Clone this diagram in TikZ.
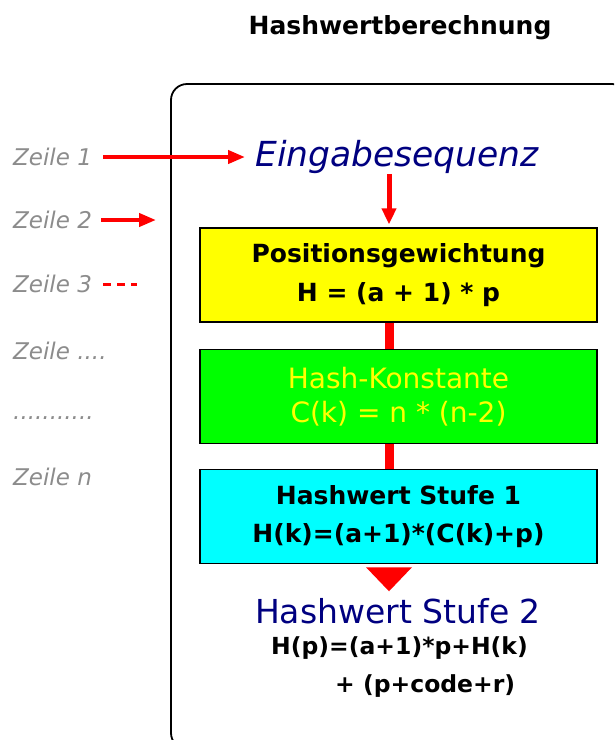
\documentclass[tikz,border=0pt]{standalone}
\usepackage{fontspec}
\setmainfont{DejaVu Sans}
\usetikzlibrary{positioning, arrows.meta, calc}
\definecolor{hgelb}{RGB}{255,255,0}
\definecolor{hgruen}{RGB}{0,255,0}
\definecolor{hcyan}{RGB}{0,255,255}
\definecolor{hblau}{RGB}{0,0,128}
\definecolor{zgrau}{RGB}{140,140,140}
\tikzset{
  stufe/.style  = {draw, line width=1.3pt, minimum width=397pt, minimum height=94pt, align=center, inner sep=0pt},
  zeile/.style  = {anchor=west, inner sep=0pt, text=zgrau, font=\fontsize{23}{26}\selectfont\itshape},
  pfeil/.style  = {-{Triangle[length=17pt,width=13pt]}, red, line width=4pt},
  balken/.style = {red, line width=9pt}
}

\begin{document}
\begin{tikzpicture}[x=1pt, y=-1pt]
  \useasboundingbox (0,0) rectangle (614,740);
  % Rahmen, rechts und unten abgeschnitten
  \begin{scope}
    \clip (0,0) rectangle (614,740);
    \draw[line width=1.8pt, rounded corners=16pt] (171,84) rectangle (628,749);
  \end{scope}
  \node[font=\fontsize{25}{30}\selectfont\bfseries] (titel) at (400,28) {Hashwertberechnung};
  \coordinate (achse) at (389,0);

  % Zeilen links
  \node[zeile] (z1) at (13,157) {Zeile 1};
  \node[zeile] (z2) at (13,220) {Zeile 2};
  \node[zeile] (z3) at (13,284) {Zeile 3};
  \node[zeile] (z4) at (13,351) {Zeile ....};
  \node[zeile] (zp) at (13,418) {...........};
  \node[zeile] (zn) at (13,477) {Zeile n};
  \coordinate (z2end) at (156,220);
  \coordinate (z3end) at (137,284);

  \node[inner sep=0pt, text=hblau, font=\fontsize{34.5}{38}\selectfont\itshape] (eing) at (397,157) {Eingabesequenz};

  \node[stufe, fill=hgelb, font=\fontsize{25}{39}\selectfont\bfseries] (pos) at (398.5,275) {Positionsgewichtung\\H = (a + 1) * p};
  \node[stufe, fill=hgruen, text=hgelb, font=\fontsize{28}{34}\selectfont, below=26pt of pos] (kon) {Hash-Konstante\\C(k) = n * (n-2)};
  \node[stufe, fill=hcyan, font=\fontsize{25}{38}\selectfont\bfseries, below=25pt of kon] (h1) {Hashwert Stufe 1\\H(k)=(a+1)*(C(k)+p)};

  \node[text=hblau, inner sep=0pt, font=\fontsize{33}{38}\selectfont] (h2) at (398,611) {Hashwert Stufe 2};
  \node[anchor=north west, align=left, inner sep=0pt, font=\fontsize{23.5}{38}\selectfont\bfseries] (formel) at (271,636) {H(p)=(a+1)*p+H(k)\\\hspace*{64pt}+ (p+code+r)};

  % Verbindungen
  \draw[pfeil, shorten <=11pt, shorten >=10pt] (z1.east) -- (eing.west);
  \draw[pfeil, shorten <=9pt] (z2.east) -- (z2end);
  \draw[red, line width=3pt, dash pattern=on 8pt off 6pt, shorten <=11pt] (z3.east) -- (z3end);
  \draw[-{Triangle[length=16pt,width=14pt]}, red, line width=5pt] (eing.south -| achse) -- ($(pos.north -| achse)+(0,-3)$);
  \draw[balken] (pos.south -| achse) -- (kon.north -| achse);
  \draw[balken] (kon.south -| achse) -- (h1.north -| achse);
  \fill[red] ($(h1.south -| achse)+(-23,3)$) -- ++(46,0) -- ++(-23,24) -- cycle;
\end{tikzpicture}
\end{document}
